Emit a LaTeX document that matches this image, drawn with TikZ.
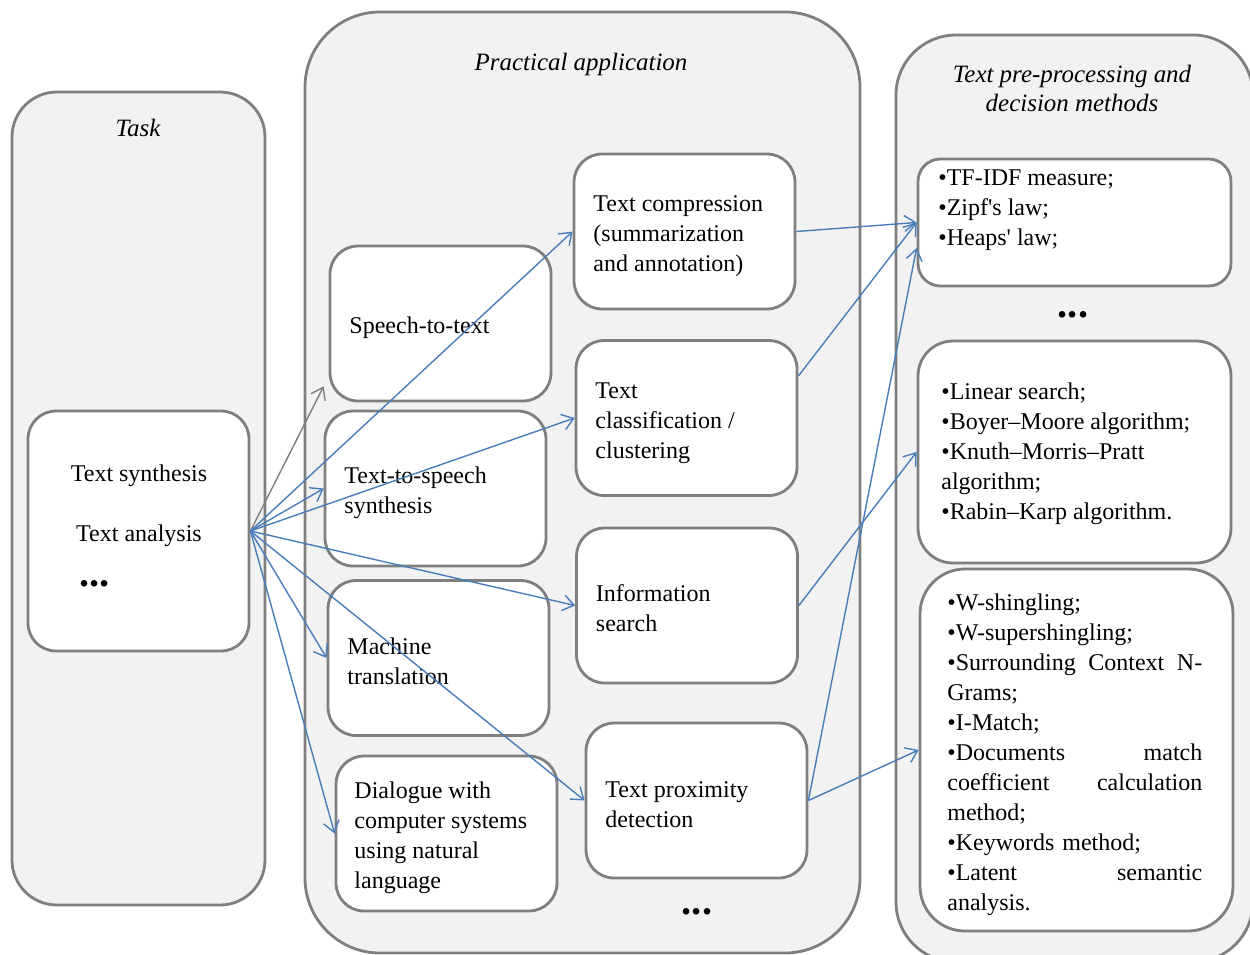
\documentclass[tikz,border=0pt]{standalone}
\usepackage{fontspec}
\setmainfont{Liberation Serif}[Ligatures=TeXOff]
\usetikzlibrary{arrows.meta,fit,calc}
\definecolor{panelfill}{HTML}{F2F2F2}
\definecolor{edgegray}{HTML}{7F7F7F}
\definecolor{linkblue}{HTML}{4A7EBB}

\begin{document}
\begin{tikzpicture}[x=0.02cm,y=-0.02cm,
  panel/.style={draw=edgegray, fill=panelfill, line width=1.6pt, inner sep=0pt},
  card/.style={draw=edgegray, fill=white, line width=1.6pt, inner sep=0pt, rounded corners=0.56cm},
  appcard/.style={card, minimum width=4.42cm, minimum height=3.1cm},
  txt/.style={font=\fontsize{13.66pt}{17.07pt}\selectfont, align=left, inner sep=0pt},
  ttl/.style={font=\fontsize{14.2pt}{16.5pt}\selectfont\itshape, align=center, inner sep=0pt},
  dots/.style={font=\fontsize{23pt}{23pt}\selectfont\bfseries, inner sep=0pt},
  arr/.style={-{Straight Barb[length=2.2mm,width=3.2mm]}, line width=0.8pt, draw=linkblue}
]
\useasboundingbox (0,0) rectangle (1250,954);

% three column panels
\node[panel, rounded corners=0.9cm, fit={(12,92)(265,905)}] (taskpanel) {};
\node[panel, rounded corners=1.5cm, fit={(305,12)(860,953)}] (apppanel) {};
\node[panel, rounded corners=1.2cm, fit={(896,35)(1253,962)}] (methpanel) {};

\node[ttl] (tasktitle) at (138,128) {Task};
\node[ttl] (apptitle) at (581,64) {Practical application};
\node[ttl] (methtitle) at (1072,88) {Text pre-processing and\\decision methods};

% task column
\node[card, fit={(28,411)(249,651)}] (src) {};
\node[txt] (ts1) at (139,476) {Text synthesis};
\node[txt] (ts2) at (139,536) {Text analysis};
\node[dots, anchor=west] (ts3) at (79,584) {...};

% application cards
\node[appcard] (s2t) at (440.5,323.5) {};
\node[appcard] (tts) at (435.5,488.5) {};
\node[appcard] (mt)  at (438.5,658)   {};
\node[appcard] (dlg) at (446.5,833.5) {};
\node[appcard] (tc)  at (684.5,231.5) {};
\node[appcard] (tcl) at (686.5,418)   {};
\node[appcard] (isr) at (687,605.5)   {};
\node[appcard] (tp)  at (696.5,800.5) {};

% their texts
\node[txt, anchor=west] (s2t-t) at ($(s2t.west)+(20.5,4)$) {Speech-to-text};
\node[txt, anchor=west] (tts-t) at ($(tts.west)+(20.5,4)$) {Text-to-speech\\synthesis};
\node[txt, anchor=west] (mt-t)  at ($(mt.west)+(20.5,3)$)  {Machine\\translation};
\node[txt, anchor=west] (dlg-t) at ($(dlg.west)+(19.5,4)$) {Dialogue with\\computer systems\\using natural\\language};
\node[txt, anchor=west] (tc-t)  at ($(tc.west)+(20.5,5)$)  {Text compression\\(summarization\\and annotation)};
\node[txt, anchor=west] (tcl-t) at ($(tcl.west)+(20.5,5)$) {Text\\classification /\\clustering};
\node[txt, anchor=west] (isr-t) at ($(isr.west)+(20.5,3)$) {Information\\search};
\node[txt, anchor=west] (tp-t)  at ($(tp.west)+(20.5,4)$)  {Text proximity\\detection};
\node[dots] (appdots) at (697,912) {...};

% methods
\node[card, rounded corners=0.45cm, fit={(918,159)(1231,286)}] (tf) {};
\node[txt, anchor=west] (tftxt) at (938,210) {•TF-IDF measure;\\•Zipf's law;\\•Heaps' law;};
\node[dots] (methdots) at (1073,315) {...};
\node[card, rounded corners=0.7cm, fit={(918,341)(1231,563)}] (lin) {};
\node[txt, anchor=west] (lintxt) at (941,454) {•Linear search;\\•Boyer–Moore algorithm;\\•Knuth–Morris–Pratt\\algorithm;\\•Rabin–Karp algorithm.};
\node[card, rounded corners=0.9cm, fit={(920,569)(1233,931)}] (ws) {};
\node[txt, anchor=west, text width=5.1cm] (wstxt) at (947,755) {•W-shingling;\\•W-supershingling;\\•Surrounding\hfill Context\hfill N-\\Grams;\\•I-Match;\\•Documents\hfill match\\coefficient\hfill calculation\\method;\\•Keywords method;\\•Latent\hfill semantic\\analysis.};

% connectors
\draw[arr, draw=edgegray] (src.east) -- ($(s2t.south west)+(-5,-16)$);
\draw[arr] (src.east) -- (tc.west);
\draw[arr] (src.east) -- (tts.west);
\draw[arr] (src.east) -- (tcl.west);
\draw[arr] (src.east) -- (isr.west);
\draw[arr] (src.east) -- (mt.west);
\draw[arr] (src.east) -- (tp.west);
\draw[arr] (src.east) -- (dlg.west);

\draw[arr] (tc.east) -- (tf.west);
\draw[arr] (tcl.east |- 0,376) -- (tf.west);
\draw[arr] (isr.east) -- (lin.west);
\draw[arr] (tp.east) -- (tf.west |- 0,248);
\draw[arr] (tp.east) -- (ws.west);
\end{tikzpicture}
\end{document}
